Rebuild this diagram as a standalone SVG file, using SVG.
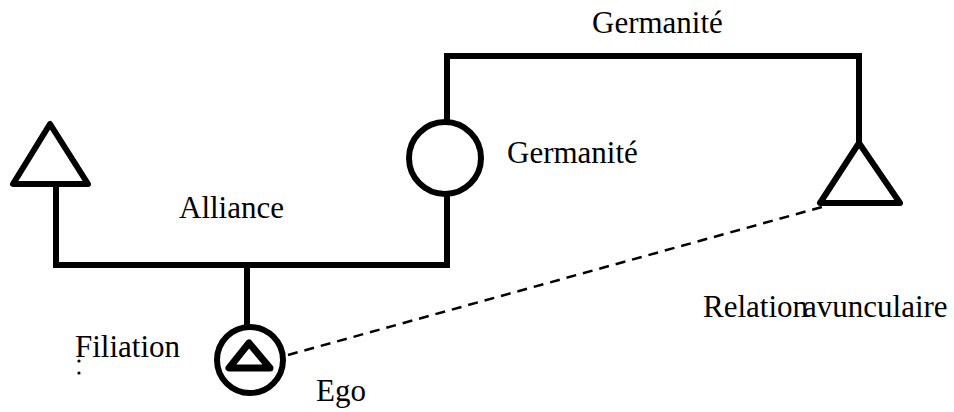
<svg xmlns="http://www.w3.org/2000/svg" width="954" height="412" viewBox="0 0 954 412">
<style>
.ln{fill:none;stroke:#000;stroke-width:6;stroke-linejoin:miter;stroke-linecap:square}
.sh{fill:#fff;stroke:#000;stroke-width:6;stroke-linejoin:round}
.t{font-family:"Liberation Serif","Times New Roman",serif;font-size:31px;fill:#000}
.d{fill:none;stroke:#000;stroke-width:2.5;stroke-dasharray:10,7}
</style>
<rect width="954" height="412" fill="#fff"/>
<g id="connectors">
<polyline class="ln" points="56,186 56,265 447,265 447,197"/>
<polyline class="ln" points="447,126 447,56 859,56 859,142"/>
<line class="ln" x1="247" y1="265" x2="247" y2="325"/>
<line class="d" x1="288" y1="355" x2="822" y2="207"/>
</g>
<g id="node-left-triangle"><polygon class="sh" points="50,124 13,184 88,184"/></g>
<g id="node-circle"><circle class="sh" cx="445" cy="158" r="36"/></g>
<g id="node-right-triangle"><polygon class="sh" points="859,143 820,203 900,203"/></g>
<g id="node-ego">
<circle class="sh" cx="250" cy="360" r="33"/>
<polygon class="sh" style="stroke-width:7" points="249,343 229,368 270,368"/>
</g>
<g id="labels">
<text class="t" x="592" y="33">Germanité</text>
<text class="t" x="507" y="163">Germanité</text>
<text class="t" x="179" y="218">Alliance</text>
<text class="t" x="75" y="357">Filiation</text>
<circle cx="79" cy="361" r="1.6"/>
<circle cx="79" cy="373" r="1.6"/>
<text class="t" x="703" y="317">Relation</text>
<text class="t" x="803" y="317">avunculaire</text>
<text class="t" x="316" y="401">Ego</text>
</g>
</svg>
